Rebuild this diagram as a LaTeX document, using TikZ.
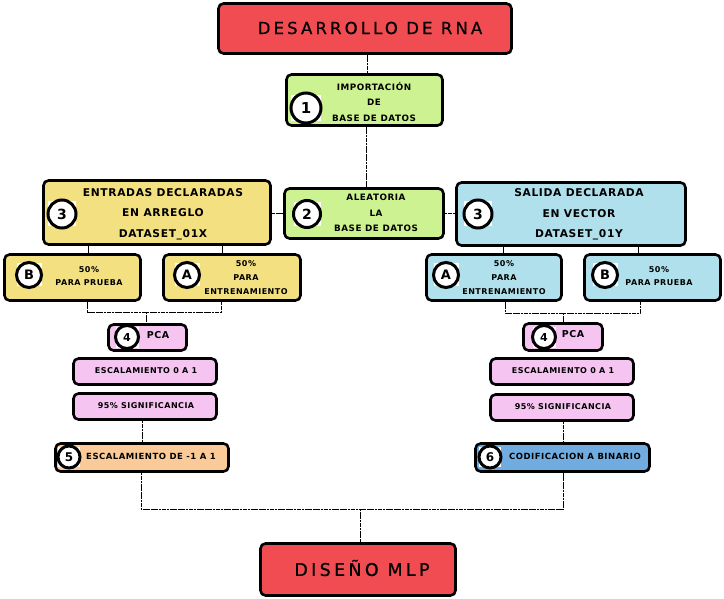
\documentclass[tikz,border=0pt]{standalone}
\usepackage{fontspec}
\setmainfont{DejaVu Sans}
\newfontfamily\tfont[LetterSpace=19,FakeBold=0.6]{DejaVu Sans}
\newfontfamily\sfont[LetterSpace=6]{DejaVu Sans}
\newfontfamily\nfont{DejaVu Sans}
\definecolor{cred}{RGB}{240,76,82}
\definecolor{cgreen}{RGB}{205,242,145}
\definecolor{cyell}{RGB}{243,224,128}
\definecolor{cblue}{RGB}{176,224,236}
\definecolor{cpink}{RGB}{245,196,240}
\definecolor{cpeach}{RGB}{250,202,152}
\definecolor{ccode}{RGB}{112,172,224}
\tikzset{
  box/.style={draw=black, line width=2.6pt, rounded corners=5pt, inner sep=0pt},
  circ/.style={circle, draw=black, line width=3pt, fill=white, inner sep=0pt},
  sq/.style={fill=white, inner sep=0pt},
  conn/.style={line width=0.8pt, dash pattern=on 2.2pt off 0.5pt},
  ttl/.style={font=\tfont\fontsize{16.5}{20}\selectfont},
  tmid/.style={font=\sfont\bfseries\fontsize{8.8}{15.5}\selectfont, align=center},
  tbig/.style={font=\sfont\bfseries\fontsize{10.7}{20.5}\selectfont, align=center},
  tab/.style={font=\sfont\bfseries\fontsize{8}{13.7}\selectfont, align=center},
  tsm/.style={font=\sfont\bfseries\fontsize{8}{10}\selectfont},
  tsm2/.style={font=\sfont\bfseries\fontsize{8.5}{10}\selectfont},
  tpca/.style={font=\sfont\bfseries\fontsize{9.5}{10}\selectfont}
}
\newcommand\mynum[7]{%
  \node[sq, minimum width=#4pt, minimum height=#5pt] at (#2,#3) {};
  \node[circ, minimum size=#4pt, font=\nfont\bfseries\fontsize{#6}{#6}\selectfont] (#1) at (#2,#3) {#7};}
\begin{document}
\begin{tikzpicture}[x=1pt,y=-1pt]
\useasboundingbox (0,0) rectangle (724,599);
% coordinates for connector positions
\coordinate (xa) at (367,0);
\coordinate (xb) at (366,0);
\coordinate (x88) at (88,0);
\coordinate (x222) at (222,0);
\coordinate (x503) at (503,0);
\coordinate (x638) at (638,0);
\coordinate (x142) at (142,0);
\coordinate (x563) at (563,0);
\coordinate (jL1) at (87,312);
\coordinate (jL2) at (221,312);
\coordinate (jLm) at (146,312);
\coordinate (jR1) at (505,313);
\coordinate (jR2) at (640,313);
\coordinate (jRm) at (563,313);
\coordinate (jB1) at (141,509);
\coordinate (jB2) at (563,509);
\coordinate (jBm) at (360,509);

% boxes
\node[box, fill=cred, minimum width=293pt, minimum height=50pt] (top) at (365,28.5) {};
\node[box, fill=cgreen, minimum width=156pt, minimum height=51pt] (b1) at (364.5,100) {};
\node[box, fill=cgreen, minimum width=159pt, minimum height=50pt] (b2) at (364,213.5) {};
\node[box, fill=cyell, minimum width=227pt, minimum height=64pt] (b3L) at (157,212.5) {};
\node[box, fill=cblue, minimum width=229pt, minimum height=63pt] (b3R) at (571,214) {};
\node[box, fill=cyell, minimum width=136pt, minimum height=46pt] (BL) at (72.5,277.5) {};
\node[box, fill=cyell, minimum width=137pt, minimum height=46pt] (AL) at (232,277.5) {};
\node[box, fill=cblue, minimum width=135pt, minimum height=46pt] (AR) at (494,277.5) {};
\node[box, fill=cblue, minimum width=136pt, minimum height=46pt] (BR) at (652.5,277.5) {};
\node[box, fill=cpink, minimum width=78pt, minimum height=26pt] (PCAL) at (147.5,337.5) {};
\node[box, fill=cpink, minimum width=143pt, minimum height=26pt] (EscL) at (145,371.5) {};
\node[box, fill=cpink, minimum width=143pt, minimum height=26pt] (SigL) at (145,406.5) {};
\node[box, fill=cpeach, minimum width=173pt, minimum height=28pt] (B5) at (142,457.5) {};
\node[box, fill=cpink, minimum width=79pt, minimum height=27pt] (PCAR) at (563,337) {};
\node[box, fill=cpink, minimum width=143pt, minimum height=26pt] (EscR) at (562,371.5) {};
\node[box, fill=cpink, minimum width=143pt, minimum height=26pt] (SigR) at (562,407.5) {};
\node[box, fill=ccode, minimum width=174pt, minimum height=28pt] (B6) at (562.5,457.5) {};
\node[box, fill=cred, minimum width=195pt, minimum height=52pt] (MLP) at (358,569.5) {};

% connectors
\draw[conn] (top.south -| xa) -- (b1.north -| xa);
\draw[conn] (b1.south -| xb) -- (b2.north -| xb);
\draw[conn] (b2.west) -- (b2.west -| b3L.east);
\draw[conn] (b2.east) -- (b2.east -| b3R.west);
\draw[conn] (b3L.south -| x88) -- (BL.north -| x88);
\draw[conn] (b3L.south -| x222) -- (AL.north -| x222);
\draw[conn] (b3R.south -| x503) -- (AR.north -| x503);
\draw[conn] (b3R.south -| x638) -- (BR.north -| x638);
\draw[conn] (BL.south -| jL1) -- (jL1) -- (jL2) -- (AL.south -| jL2);
\draw[conn] (jLm) -- (PCAL.north -| jLm);
\draw[conn] (AR.south -| jR1) -- (jR1) -- (jR2) -- (BR.south -| jR2);
\draw[conn] (jRm) -- (PCAR.north -| jRm);
\draw[conn] (SigL.south -| x142) -- (B5.north -| x142);
\draw[conn] (SigR.south -| x563) -- (B6.north -| x563);
\draw[conn] (B5.south -| jB1) -- (jB1) -- (jB2) -- (B6.south -| jB2);
\draw[conn] (jBm) -- (MLP.north -| jBm);

% texts
\node[ttl] (ttop) at (370,28) {DESARROLLO DE RNA};
\node[tmid] (t1) at (374,101.5) {IMPORTACIÓN\\DE\\BASE DE DATOS};
\node[tmid] (t2) at (376,213) {ALEATORIA\\LA\\BASE DE DATOS};
\node[tbig] (t3L) at (163,214) {ENTRADAS DECLARADAS\\EN ARREGLO\\DATASET\_01X};
\node[tbig] (t3R) at (579,214.5) {SALIDA DECLARADA\\EN VECTOR\\DATASET\_01Y};
\node[tab] (tBL) at (89,276) {50\%\\PARA PRUEBA};
\node[tab] (tAL) at (246,277.5) {50\%\\PARA\\ENTRENAMIENTO};
\node[tab] (tAR) at (504,277.5) {50\%\\PARA\\ENTRENAMIENTO};
\node[tab] (tBR) at (659,276) {50\%\\PARA PRUEBA};
\node[tpca] (tPL) at (158,335) {PCA};
\node[tpca] (tPR) at (573,334) {PCA};
\node[tsm] (tEL) at (146,371) {ESCALAMIENTO 0 A 1};
\node[tsm] (tSL) at (146,406) {95\% SIGNIFICANCIA};
\node[tsm2] (t5) at (151,456) {ESCALAMIENTO DE -1 A 1};
\node[tsm] (tER) at (563,371) {ESCALAMIENTO 0 A 1};
\node[tsm] (tSR) at (563,407) {95\% SIGNIFICANCIA};
\node[tsm2] (t6) at (575,456) {CODIFICACION A BINARIO};
\node[ttl, font=\tfont\fontsize{17.5}{20}\selectfont] (tMLP) at (362,568) {DISEÑO MLP};

% numbered circles
\mynum{c1}{306}{108}{30}{26}{15}{1}
\mynum{c2}{307}{214}{27}{24}{14}{2}
\mynum{c3L}{62}{214}{28}{25}{14}{3}
\mynum{c3R}{478}{214}{28}{25}{14}{3}
\mynum{cBL}{29}{275}{25}{23}{13}{B}
\mynum{cAL}{187}{275}{25}{23}{13}{A}
\mynum{cAR}{446}{275}{25}{23}{13}{A}
\mynum{cBR}{605}{275}{25}{23}{13}{B}
\mynum{c4L}{127}{337}{23}{21}{11}{4}
\mynum{c4R}{544}{337}{23}{21}{11}{4}
\mynum{c5}{69}{457}{22}{20}{12}{5}
\mynum{c6}{490}{457}{22}{20}{12}{6}
\end{tikzpicture}
\end{document}
